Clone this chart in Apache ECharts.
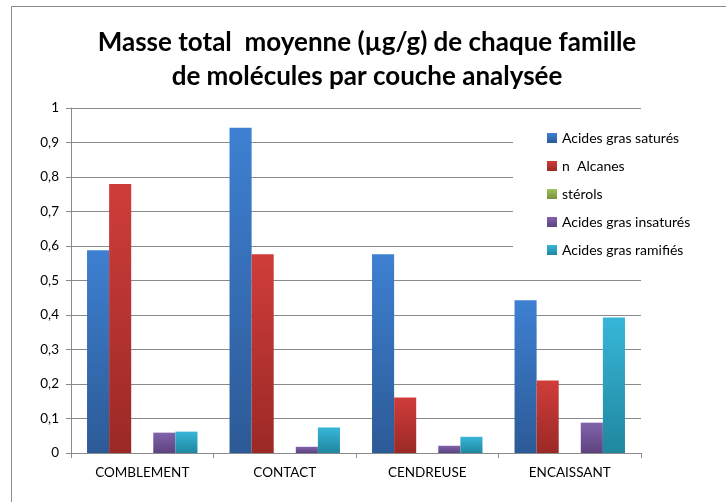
<!DOCTYPE html>
<html>
<head>
<meta charset="utf-8">
<script src="https://cdn.jsdelivr.net/npm/echarts@6/dist/echarts.min.js"></script>
<style>
  html, body { margin: 0; padding: 0; background: #fff; }
  #main { width: 726px; height: 502px; }
</style>
</head>
<body>
<div id="main"></div>
<script>
// couches analysées
var categories = ['COMBLEMENT', 'CONTACT', 'CENDREUSE', 'ENCAISSANT'];

// valeurs moyennes (µg/g)
var saturés   = [0.588, 0.943, 0.576, 0.443];
var alcanes   = [0.78, 0.576, 0.161, 0.21];
var sterols   = [0, 0, 0, 0];
var insaturés = [0.059, 0.018, 0.021, 0.088];
var ramifiés  = [0.062, 0.074, 0.047, 0.393];

var seriesNames = ['Acides gras saturés', 'n  Alcanes', 'stérols', 'Acides gras insaturés', 'Acides gras ramifiés'];

var FONT = 'Lato';

function grad(top, bottom) {
    return new echarts.graphic.LinearGradient(0, 0, 0, 1, [
        { offset: 0, color: top },
        { offset: 1, color: bottom }
    ]);
}

var myChart = echarts.init(document.getElementById('main'));

var option = {
    animation: false,
    textStyle: { fontFamily: FONT },
    title: {
        text: 'Masse total  moyenne (µg/g) de chaque famille\nde molécules par couche analysée',
        left: 362,
        textAlign: 'center',
        top: 21,
        textStyle: {
            fontFamily: FONT,
            fontSize: 26,
            fontWeight: 'bold',
            lineHeight: 34,
            color: '#000'
        }
    },
    legend: {
        orient: 'vertical',
        left: 513,
        top: 115,
        padding: [16, 20, 12, 34],
        backgroundColor: '#fff',
        itemWidth: 10,
        itemHeight: 10,
        itemGap: 14,
        icon: 'rect',
        textStyle: { fontFamily: FONT, fontSize: 14, lineHeight: 14, color: '#000' },
        data: seriesNames
    },
    graphic: [{
        type: 'rect',
        shape: { x: 11.5, y: 6.5, width: 730, height: 510 },
        style: { fill: 'none', stroke: '#8a8a8a', lineWidth: 1 },
        silent: true
    }],
    grid: { left: 71, right: 85, top: 108, bottom: 49 },
    xAxis: {
        type: 'category',
        data: categories,
        axisLine: { lineStyle: { color: '#8a8a8a', width: 1 } },
        axisTick: { show: true, length: 5, lineStyle: { color: '#8a8a8a' } },
        axisLabel: { fontFamily: FONT, fontSize: 13.5, color: '#000', margin: 13 }
    },
    yAxis: {
        type: 'value',
        min: 0,
        max: 1,
        interval: 0.1,
        axisLine: { show: true, lineStyle: { color: '#8a8a8a', width: 1 } },
        axisTick: { show: true, length: 5, lineStyle: { color: '#8a8a8a' } },
        splitLine: { lineStyle: { color: '#8a8a8a', width: 1 } },
        axisLabel: {
            fontFamily: FONT, fontSize: 13.5, color: '#000', margin: 12,
            formatter: function (v) { return String(+v.toFixed(1)).replace('.', ','); }
        }
    },
    series: [
        { name: seriesNames[0], type: 'bar', data: saturés, barGap: '0%', barCategoryGap: '22.5%',
          itemStyle: { color: grad('#3e80d2', '#2c5a96') } },
        { name: seriesNames[1], type: 'bar', data: alcanes,
          itemStyle: { color: grad('#cf3d3a', '#9b2926') } },
        { name: seriesNames[2], type: 'bar', data: sterols,
          itemStyle: { color: grad('#a0c25c', '#76933c') } },
        { name: seriesNames[3], type: 'bar', data: insaturés,
          itemStyle: { color: grad('#8263ac', '#5c437e') } },
        { name: seriesNames[4], type: 'bar', data: ramifiés,
          itemStyle: { color: grad('#37b6d8', '#20879f') } }
    ]
};

myChart.setOption(option);
</script>
</body>
</html>
